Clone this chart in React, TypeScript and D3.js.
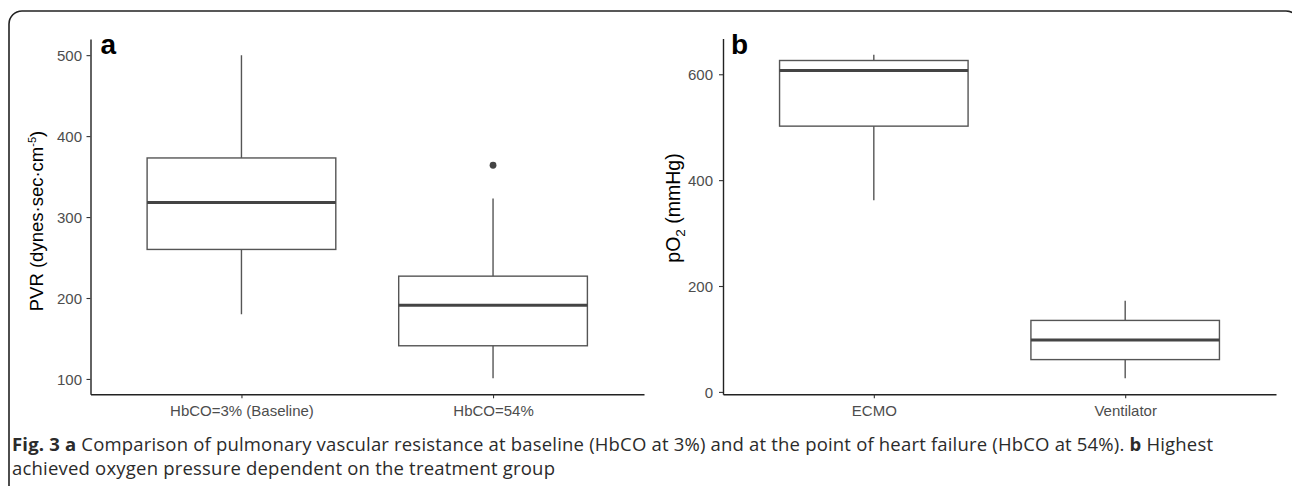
import React, { useEffect, useRef } from "react";
import * as d3 from "d3";

// panel a: pulmonary vascular resistance
const pvrGroups = ["HbCO=3% (Baseline)", "HbCO=54%"];
const pvrLow = [180, 101];
const pvrQ1 = [260, 141];
const pvrMedian = [318, 191];
const pvrQ3 = [373, 227];
const pvrHigh = [500, 323];
const pvrOutliers = [[], [364]];
const pvrTicks = [100, 200, 300, 400, 500];

// panel b: highest pO2 by treatment
const o2Groups = ["ECMO", "Ventilator"];
const o2Low = [362, 26];
const o2Q1 = [502, 61];
const o2Median = [607, 98];
const o2Q3 = [626, 135];
const o2High = [637, 172];
const o2Outliers = [[], []];
const o2Ticks = [0, 200, 400, 600];

const W = 1292;
const H = 486;
const FONT = "'Liberation Sans', Arial, sans-serif";
const CAP_FONT = "'Open Sans', sans-serif";

const drawPanel = (svg, p) => {
  const all = [...p.low, ...p.high, ...p.outliers.flat()];
  const lo = d3.min(all);
  const hi = d3.max(all);
  const pad = (hi - lo) * 0.05;
  const y = d3.scaleLinear().domain([lo - pad, hi + pad]).range([p.bottom, p.top]);
  const x = d3
    .scaleLinear()
    .domain([0.4, p.groups.length + 0.6])
    .range([p.left, p.right]);

  const g = svg.append("g");

  // y axis
  const ya = g
    .append("g")
    .attr("transform", `translate(${p.left},0)`)
    .call(d3.axisLeft(y).tickValues(p.ticks).tickSize(4).tickSizeOuter(0));
  ya.select(".domain").attr("stroke", "#222").attr("stroke-width", 1.4);
  ya.selectAll(".tick line").attr("stroke", "#333").attr("stroke-width", 1.1);
  ya.selectAll(".tick text")
    .attr("x", -p.labelGap)
    .attr("dy", "0.36em")
    .attr("fill", "#4d4d4d")
    .style("font-family", FONT)
    .style("font-size", "15px");

  // x axis
  const xa = g
    .append("g")
    .attr("transform", `translate(0,${p.bottom})`)
    .call(
      d3
        .axisBottom(x)
        .tickValues(d3.range(1, p.groups.length + 1))
        .tickFormat((d) => p.groups[d - 1])
        .tickSize(4)
        .tickSizeOuter(0)
    );
  xa.select(".domain").attr("stroke", "#222").attr("stroke-width", 1.4);
  xa.selectAll(".tick line").attr("stroke", "#333").attr("stroke-width", 1.1);
  xa.selectAll(".tick text")
    .attr("y", 22)
    .attr("dy", 0)
    .attr("fill", "#4d4d4d")
    .style("font-family", FONT)
    .style("font-size", "15px");

  const idx = d3.range(p.groups.length);
  const half = (i) => x(i + 1 + 0.375) - x(i + 1);

  // whiskers
  g.append("g")
    .selectAll("line")
    .data(idx)
    .enter()
    .append("line")
    .attr("x1", (i) => x(i + 1))
    .attr("x2", (i) => x(i + 1))
    .attr("y1", (i) => y(p.high[i]))
    .attr("y2", (i) => y(p.low[i]))
    .attr("stroke", "#555")
    .attr("stroke-width", 1.4);

  // boxes
  g.append("g")
    .selectAll("rect")
    .data(idx)
    .enter()
    .append("rect")
    .attr("x", (i) => x(i + 1) - half(i))
    .attr("width", (i) => 2 * half(i))
    .attr("y", (i) => y(p.q3[i]))
    .attr("height", (i) => y(p.q1[i]) - y(p.q3[i]))
    .attr("fill", "#fff")
    .attr("stroke", "#555")
    .attr("stroke-width", 1.4);

  // medians
  g.append("g")
    .selectAll("line")
    .data(idx)
    .enter()
    .append("line")
    .attr("x1", (i) => x(i + 1) - half(i))
    .attr("x2", (i) => x(i + 1) + half(i))
    .attr("y1", (i) => y(p.median[i]))
    .attr("y2", (i) => y(p.median[i]))
    .attr("stroke", "#444")
    .attr("stroke-width", 3);

  // outliers
  const pts = idx.flatMap((i) => p.outliers[i].map((v) => ({ i, v })));
  g.append("g")
    .selectAll("circle")
    .data(pts)
    .enter()
    .append("circle")
    .attr("cx", (d) => x(d.i + 1))
    .attr("cy", (d) => y(d.v))
    .attr("r", 3.4)
    .attr("fill", "#444");

  // panel letter
  g.append("text")
    .attr("x", p.left + p.letterDx)
    .attr("y", 54)
    .attr("fill", "#000")
    .style("font-family", FONT)
    .style("font-size", "28px")
    .style("font-weight", "bold")
    .text(p.letter);
};

const App = () => {
  const ref = useRef(null);

  useEffect(() => {
    const svg = d3.select(ref.current);
    svg.selectAll("*").remove();

    svg.append("rect").attr("width", W).attr("height", H).attr("fill", "#fff");

    // rounded frame
    svg
      .append("rect")
      .attr("x", 9)
      .attr("y", 11)
      .attr("width", 1290)
      .attr("height", 520)
      .attr("rx", 13)
      .attr("fill", "none")
      .attr("stroke", "#222")
      .attr("stroke-width", 1.6);

    drawPanel(svg, {
      groups: pvrGroups,
      low: pvrLow,
      q1: pvrQ1,
      median: pvrMedian,
      q3: pvrQ3,
      high: pvrHigh,
      outliers: pvrOutliers,
      ticks: pvrTicks,
      left: 90.5,
      right: 644,
      top: 39,
      bottom: 394.3,
      labelGap: 8.5,
      letter: "a",
      letterDx: 10,
    });

    drawPanel(svg, {
      groups: o2Groups,
      low: o2Low,
      q1: o2Q1,
      median: o2Median,
      q3: o2Q3,
      high: o2High,
      outliers: o2Outliers,
      ticks: o2Ticks,
      left: 723,
      right: 1276,
      top: 38.5,
      bottom: 394.3,
      labelGap: 10,
      letter: "b",
      letterDx: 8,
    });

    // y titles
    const t1 = svg
      .append("text")
      .attr("transform", "translate(43,221) rotate(-90)")
      .attr("text-anchor", "middle")
      .attr("fill", "#000")
      .style("font-family", FONT)
      .style("font-size", "18.5px");
    t1.append("tspan").text("PVR (dynes·sec·cm");
    t1.append("tspan").attr("dy", -7).style("font-size", "11px").text("-5");
    t1.append("tspan").attr("dy", 7).text(")");

    const t2 = svg
      .append("text")
      .attr("transform", "translate(680,208) rotate(-90)")
      .attr("text-anchor", "middle")
      .attr("fill", "#000")
      .style("font-family", FONT)
      .style("font-size", "19.5px");
    t2.append("tspan").text("pO");
    t2.append("tspan").attr("dy", 5).style("font-size", "13.5px").text("2");
    t2.append("tspan").attr("dy", -5).text(" (mmHg)");

    // caption
    const cap1 = svg
      .append("text")
      .attr("x", 12)
      .attr("y", 451)
      .attr("textLength", 1201)
      .attr("lengthAdjust", "spacing")
      .attr("fill", "#2b2b2b")
      .style("font-family", CAP_FONT)
      .style("font-size", "18.5px");
    cap1.append("tspan").style("font-weight", "bold").text("Fig. 3 a");
    cap1
      .append("tspan")
      .text(
        " Comparison of pulmonary vascular resistance at baseline (HbCO at 3%) and at the point of heart failure (HbCO at 54%). "
      );
    cap1.append("tspan").style("font-weight", "bold").text("b");
    cap1.append("tspan").text(" Highest");

    svg
      .append("text")
      .attr("x", 12)
      .attr("y", 475)
      .attr("textLength", 543)
      .attr("lengthAdjust", "spacing")
      .attr("fill", "#2b2b2b")
      .style("font-family", CAP_FONT)
      .style("font-size", "18.5px")
      .text("achieved oxygen pressure dependent on the treatment group");
  }, []);

  return (
    <svg
      ref={ref}
      width={W}
      height={H}
      style={{ position: "absolute", left: 0, top: 0 }}
    />
  );
};

export default App;
